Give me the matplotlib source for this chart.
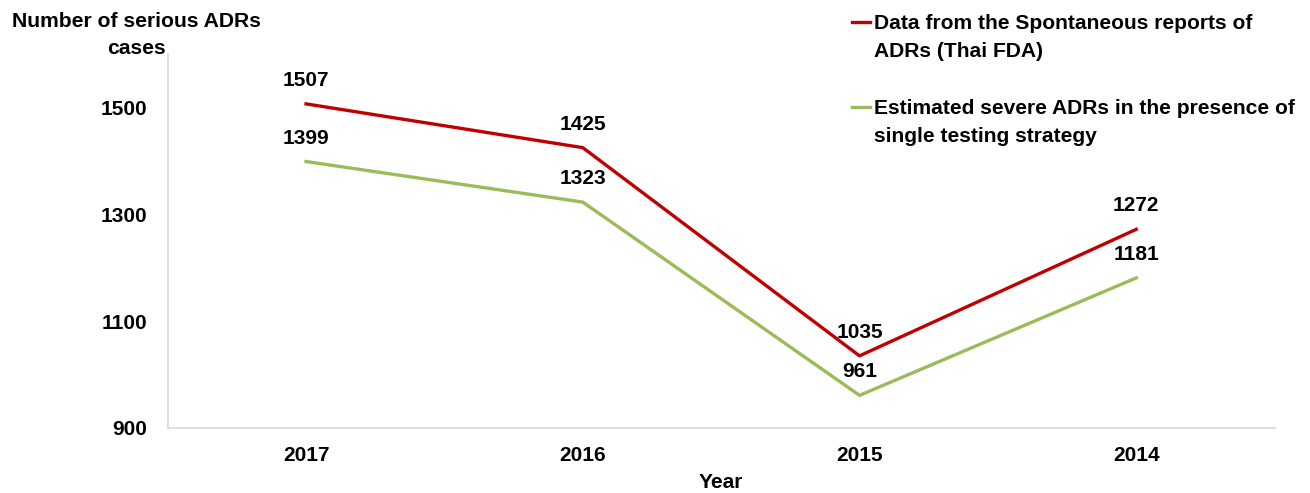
import matplotlib
matplotlib.use("Agg")
import matplotlib.pyplot as plt
from matplotlib.lines import Line2D

plt.rcParams["font.family"] = ["Liberation Sans", "DejaVu Sans"]
plt.rcParams["font.weight"] = "bold"

years = ["2017", "2016", "2015", "2014"]
reported = [1507, 1425, 1035, 1272]
estimated = [1399, 1323, 961, 1181]
series_names = ["Data from the Spontaneous reports of\nADRs (Thai FDA)",
                "Estimated severe ADRs in the presence of\nsingle testing strategy"]
yticks = [900, 1100, 1300, 1500]

RED = "#C00000"
GREEN = "#9BBB59"
FS = 15

fig = plt.figure(figsize=(13.1, 4.93), dpi=100)
ax = fig.add_axes([0.128, 0.132, 0.845, 0.758])
x = range(len(years))
ax.plot(x, reported, color=RED, lw=2.4)
ax.plot(x, estimated, color=GREEN, lw=2.4)
for series in (reported, estimated):
    for xi, v in zip(x, series):
        ax.annotate(str(v), (xi, v), xytext=(0, 10), textcoords="offset points",
                    ha="center", va="bottom", fontsize=FS, fontweight="bold")

ax.set_xlim(-0.5, 3.5)
ax.set_ylim(900, 1600)
ax.set_xticks(list(x))
ax.set_xticklabels(years, fontsize=FS, fontweight="bold")
ax.set_yticks(yticks)
ax.set_yticklabels([str(t) for t in yticks], fontsize=FS, fontweight="bold")
ax.tick_params(length=0, pad=15)
ax.tick_params(axis="x", pad=13)
for s in ("top", "right"):
    ax.spines[s].set_visible(False)
for s in ("left", "bottom"):
    ax.spines[s].set_color("#D9D9D9")
    ax.spines[s].set_linewidth(1.2)
ax.set_xlabel("Year", fontsize=FS, fontweight="bold", labelpad=6)

fig.text(136 / 1310, 1 - 12 / 493, "Number of serious ADRs\ncases", ha="center", va="top",
         fontsize=15.2, fontweight="bold", linespacing=1.5)

# legend, drawn by hand so the marker sits on the first text line
for (ytext, yline, col, name) in [(14, 22, RED, series_names[0]),
                                  (99, 107, GREEN, series_names[1])]:
    fig.add_artist(Line2D([852 / 1310, 870 / 1310], [1 - yline / 493] * 2, color=col, lw=2.4))
    fig.text(874 / 1310, 1 - ytext / 493, name, ha="left", va="top", fontsize=15.1,
             fontweight="bold", linespacing=1.6)

fig.savefig("out.png", dpi=100)
